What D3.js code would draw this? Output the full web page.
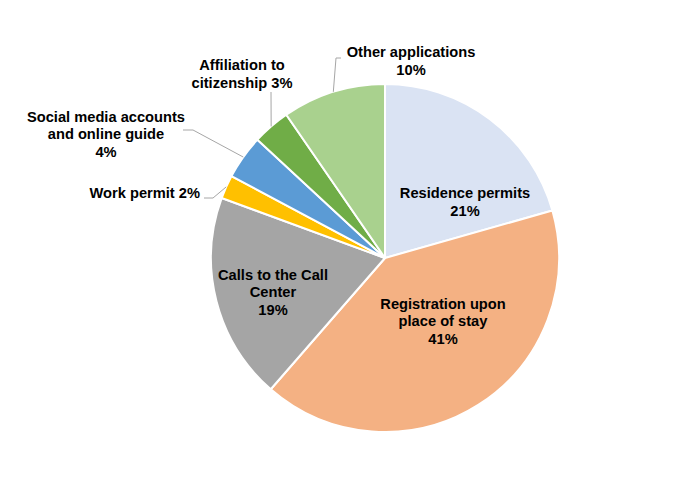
<!DOCTYPE html>
<html>
<head>
<meta charset="utf-8">
<script src="https://cdn.jsdelivr.net/npm/d3@7/dist/d3.min.js"></script>
<style>
  html, body { margin: 0; padding: 0; background: #ffffff; }
  svg { display: block; }
  text { font-family: "Liberation Sans", Arial, sans-serif; font-weight: bold; fill: #000; }
</style>
</head>
<body>
<svg id="chart" width="682" height="497"></svg>
<script>
// ---- data ----
const categories = [
  "Residence permits",
  "Registration upon place of stay",
  "Calls to the Call Center",
  "Work permit",
  "Social media accounts and online guide",
  "Affiliation to citizenship",
  "Other applications"
];
const values = [20.6, 40.8, 19.2, 2.2, 4.1, 3.5, 9.6];
const percentLabels = ["21%", "41%", "19%", "2%", "4%", "3%", "10%"];
const colors = ["#DAE3F3", "#F4B183", "#A5A5A5", "#FFC000", "#5B9BD5", "#70AD47", "#A9D18E"];
const labelLines = [
  ["Residence permits", "21%"],
  ["Registration upon", "place of stay", "41%"],
  ["Calls to the Call", "Center", "19%"],
  ["Work permit 2%"],
  ["Social media accounts", "and online guide", "4%"],
  ["Affiliation to", "citizenship 3%"],
  ["Other applications", "10%"]
];

// ---- layout ----
const cx = 385, cy = 258, R = 174;
const fontSize = 14.67, lineH = 17.7;
// label block centers (relative to pie centre) and anchors
const labelLayout = [
  { x: 80,   y: -56,  anchor: "middle" },
  { x: 58,   y: 63,   anchor: "middle" },
  { x: -112, y: 34,   anchor: "middle" },
  { x: -185, y: -65,  anchor: "end" },
  { x: -279, y: -124, anchor: "middle" },
  { x: -143, y: -184, anchor: "middle" },
  { x: 26,   y: -197, anchor: "middle" }
];
// leader lines: points from label side to elbow (relative to centre); slice edge point is computed
const leaderPts = [
  null, null, null,
  [[-181, -60], [-172, -60]],
  [[-202, -128], [-192, -128]],
  [[-114, -166]],
  [[-44, -200], [-49, -200]]
];

const svg = d3.select("#chart");
const g = svg.append("g").attr("transform", `translate(${cx},${cy})`);

const pie = d3.pie().sort(null).value(d => d)(values);
const arc = d3.arc().innerRadius(0).outerRadius(R);
const edge = d3.arc().innerRadius(R).outerRadius(R);

g.selectAll("path.slice")
  .data(pie)
  .join("path")
  .attr("class", "slice")
  .attr("d", arc)
  .attr("fill", (d, i) => colors[i])
  .attr("stroke", "#ffffff")
  .attr("stroke-width", 2)
  .attr("stroke-linejoin", "round");

// leader lines
pie.forEach((d, i) => {
  if (!leaderPts[i]) return;
  const c = edge.centroid(d);
  const all = [c].concat(leaderPts[i].slice().reverse());
  g.append("path")
    .attr("d", d3.line()(all))
    .attr("fill", "none")
    .attr("stroke", "#A6A6A6")
    .attr("stroke-width", 1);
});

// labels
labelLines.forEach((lines, i) => {
  const L = labelLayout[i];
  const n = lines.length;
  const t = g.append("text")
    .attr("text-anchor", L.anchor)
    .style("font-size", fontSize + "px");
  lines.forEach((s, k) => {
    t.append("tspan")
      .attr("x", L.x)
      .attr("y", L.y + (k - (n - 1) / 2) * lineH + 5.2)
      .text(s);
  });
});
</script>
</body>
</html>
